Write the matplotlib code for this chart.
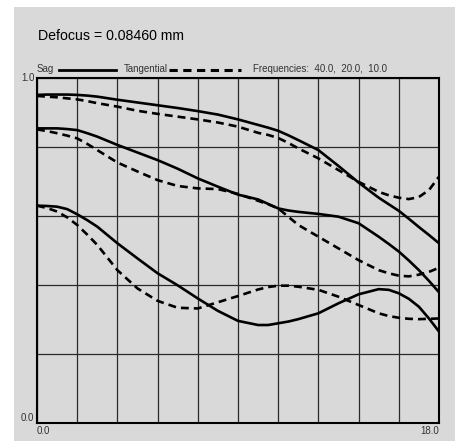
import matplotlib
matplotlib.use("Agg")
import matplotlib.pyplot as plt
from matplotlib.patches import Rectangle
from matplotlib.lines import Line2D

# field positions (mm)
field = [0.0, 0.45, 0.9, 1.35, 1.8, 2.25, 2.7, 3.6, 4.5, 5.4, 6.3, 7.2, 8.1, 9.0,
         9.9, 10.35, 10.8, 11.25, 11.7, 12.6, 13.5, 14.4, 15.3, 15.75, 16.2, 16.65,
         17.1, 17.55, 18.0]

# MTF at 10 lp/mm
sag_10 = [0.951, 0.952, 0.952, 0.952, 0.951, 0.949, 0.946, 0.937, 0.929, 0.921, 0.913,
          0.904, 0.894, 0.880, 0.864, 0.856, 0.847, 0.834, 0.820, 0.791, 0.745, 0.697,
          0.653, 0.634, 0.615, 0.592, 0.568, 0.545, 0.521]
tan_10 = [0.948, 0.946, 0.944, 0.941, 0.938, 0.933, 0.927, 0.917, 0.905, 0.896, 0.888,
          0.880, 0.871, 0.859, 0.841, 0.835, 0.826, 0.812, 0.796, 0.767, 0.733, 0.699,
          0.670, 0.660, 0.653, 0.649, 0.655, 0.675, 0.714]
# MTF at 20 lp/mm
sag_20 = [0.854, 0.854, 0.854, 0.852, 0.849, 0.840, 0.830, 0.806, 0.784, 0.762, 0.737,
          0.709, 0.685, 0.662, 0.648, 0.635, 0.622, 0.616, 0.612, 0.606, 0.598, 0.579,
          0.540, 0.519, 0.497, 0.471, 0.443, 0.412, 0.379]
tan_20 = [0.851, 0.846, 0.840, 0.833, 0.825, 0.809, 0.791, 0.755, 0.729, 0.704, 0.687,
          0.680, 0.678, 0.664, 0.644, 0.634, 0.622, 0.598, 0.574, 0.540, 0.506, 0.472,
          0.443, 0.434, 0.427, 0.425, 0.430, 0.438, 0.450]
# MTF at 40 lp/mm
sag_40 = [0.630, 0.629, 0.627, 0.620, 0.605, 0.588, 0.569, 0.521, 0.477, 0.434, 0.399,
          0.361, 0.325, 0.296, 0.284, 0.284, 0.289, 0.294, 0.301, 0.318, 0.347, 0.373,
          0.388, 0.386, 0.376, 0.360, 0.337, 0.303, 0.265]
tan_40 = [0.630, 0.623, 0.613, 0.596, 0.574, 0.546, 0.516, 0.443, 0.390, 0.354, 0.334,
          0.332, 0.350, 0.368, 0.387, 0.394, 0.398, 0.398, 0.395, 0.386, 0.366, 0.342,
          0.318, 0.310, 0.305, 0.302, 0.301, 0.302, 0.303]

x_ticks = [0.0, 1.8, 3.6, 5.4, 7.2, 9.0, 10.8, 12.6, 14.4, 16.2, 18.0]
y_ticks = [0.0, 0.2, 0.4, 0.6, 0.8, 1.0]

bg = "#d9d9d9"
txt = "#333333"

fig = plt.figure(figsize=(4.55, 4.41), dpi=100, facecolor="white")
fig.add_artist(Rectangle((14 / 455, 0), 1 - 14 / 455, 434 / 441,
                         transform=fig.transFigure, facecolor=bg, edgecolor="none", zorder=0))

ax = fig.add_axes([37 / 455, 18 / 441, 402 / 455, 345 / 441])
ax.set_facecolor(bg)

lw = 1.9
dash = (0, (3.0, 1.9))
for s, t in [(sag_10, tan_10), (sag_20, tan_20), (sag_40, tan_40)]:
    ax.plot(field, s, color="black", lw=lw, solid_capstyle="butt", solid_joinstyle="round", zorder=3)
    ax.plot(field, t, color="black", lw=lw, linestyle=dash, dash_capstyle="butt", zorder=3)

ax.set_xlim(0, 18)
ax.set_ylim(0, 1)
ax.set_xticks(x_ticks)
ax.set_yticks(y_ticks)
ax.set_xticklabels(["0.0"] + [""] * 9 + ["18.0"])
ax.set_yticklabels(["0.0"] + [""] * 4 + ["1.0"])
ax.tick_params(length=0, labelsize=7, labelcolor=txt, pad=2)
for lab in ax.get_xticklabels() + ax.get_yticklabels():
    lab.set_family("Liberation Sans")
xl = ax.get_xticklabels()
xl[0].set_ha("left")
xl[-1].set_ha("right")
yl = ax.get_yticklabels()
yl[0].set_va("bottom")
yl[-1].set_va("center")
ax.grid(True, color="#2a2a2a", lw=0.9)
for sp in ax.spines.values():
    sp.set_linewidth(1.5)
    sp.set_color("black")

# header texts
fig.text(38 / 455, 1 - 36 / 441, "Defocus = 0.08460 mm", fontsize=10.2,
         family="Liberation Sans", color="black", va="center", ha="left")
ly = 1 - 69.5 / 441
fig.text(37 / 455, ly, "Sag", fontsize=7, family="Liberation Sans", color=txt, va="center")
fig.add_artist(Line2D([59 / 455, 116 / 455], [ly, ly], color="black", lw=2.0))
fig.text(124 / 455, ly, "Tangential", fontsize=7, family="Liberation Sans", color=txt, va="center")
fig.add_artist(Line2D([169 / 455, 241 / 455], [ly, ly], color="black", lw=2.2,
                      linestyle=(0, (2.7, 1.8)), dash_capstyle="butt"))
fig.text(253 / 455, ly, "Frequencies:  40.0,  20.0,  10.0", fontsize=7,
         family="Liberation Sans", color=txt, va="center")

fig.savefig("out.png", dpi=100, facecolor="white")
